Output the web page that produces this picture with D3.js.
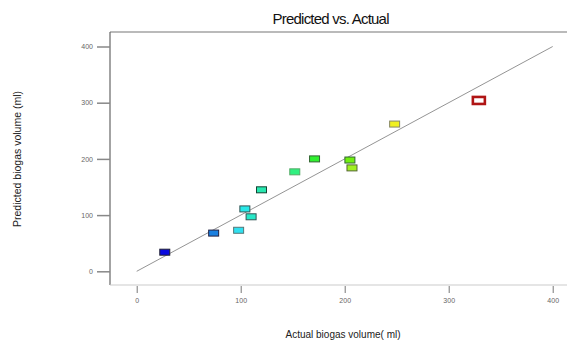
<!DOCTYPE html>
<html><head><meta charset="utf-8">
<script src="https://cdn.jsdelivr.net/npm/d3@7"></script>
<style>body{margin:0;background:#fff}svg{display:block}</style>
</head><body>
<svg id="c" width="567" height="341"></svg>
<script>
const actual    = [27, 74, 98, 104, 110, 120, 152, 171, 205, 207, 248, 329];
const predicted = [34, 68, 73, 111, 97, 145, 177, 200, 198, 184, 262, 304];
const colors    = ["#0a0ae0","#1a80e0","#30e0f0","#28e8e8","#28e8c8","#28e8b0","#30f080","#30f030","#70f010","#a0f020","#f0f020","#ffffff"];
const strokes   = ["#223","#224","#577","#355","#355","#143","#5a6","#363","#363","#563","#886","#b01515"];
const ticks     = [0, 100, 200, 300, 400];
const titleText = "Predicted vs. Actual";
const xLabel    = "Actual biogas volume( ml)";
const yLabel    = "Predicted biogas volume (ml)";

(function () {
const svg = d3.select("#c");
const x = d3.scaleLinear().domain([0, 400]).range([136.7, 552.7]);
const y = d3.scaleLinear().domain([0, 400]).range([271.3, 46.5]);
const L = 110, T = 32, B = 285, R = 567;

// frame
svg.append("line").attr("x1", L).attr("x2", R).attr("y1", T).attr("y2", T).attr("stroke", "#777").attr("stroke-width", 1.2);
svg.append("line").attr("x1", L).attr("x2", L).attr("y1", T).attr("y2", B).attr("stroke", "#666").attr("stroke-width", 1.2);
svg.append("line").attr("x1", L).attr("x2", R).attr("y1", B).attr("y2", B).attr("stroke", "#ccc").attr("stroke-width", 1.2);

// y axis
const yAxis = d3.axisLeft(y).tickValues(ticks).tickSize(13).tickPadding(4);
const gy = svg.append("g").attr("transform", `translate(${L},0)`).call(yAxis);
gy.select(".domain").remove();
gy.selectAll(".tick line").attr("stroke", "#888").attr("stroke-width", 1.5);
gy.selectAll(".tick text").attr("font-family", "Liberation Sans, Arial, sans-serif").attr("font-size", 7).attr("fill", "#666");

// x axis
const xAxis = d3.axisBottom(x).tickValues(ticks).tickSize(7).tickPadding(5);
const gx = svg.append("g").attr("transform", `translate(0,${B + 1})`).call(xAxis);
gx.select(".domain").remove();
gx.selectAll(".tick line").attr("stroke", "#777").attr("stroke-width", 1);
gx.selectAll(".tick text").attr("font-family", "Liberation Sans, Arial, sans-serif").attr("font-size", 7).attr("fill", "#666");

// diagonal
svg.append("line").attr("x1", x(0)).attr("y1", y(0)).attr("x2", x(400)).attr("y2", y(400))
  .attr("stroke", "#888").attr("stroke-width", 0.9);

// points
const pts = actual.map((a, i) => ({a, p: predicted[i], c: colors[i], s: strokes[i], i}));
svg.selectAll("rect.pt").data(pts).join("rect").attr("class", "pt")
  .attr("x", d => x(d.a) - (d.i === 11 ? 6 : 5))
  .attr("y", d => y(d.p) - (d.i === 11 ? 3.5 : 3))
  .attr("width", d => d.i === 11 ? 12 : 10)
  .attr("height", d => d.i === 11 ? 7 : 6)
  .attr("fill", d => d.c).attr("stroke", d => d.s)
  .attr("stroke-width", d => d.i === 11 ? 2.6 : 1);

// text
svg.append("text").attr("x", 331).attr("y", 24).attr("text-anchor", "middle")
  .attr("font-family", "Liberation Sans, Arial, sans-serif").attr("font-size", 15).attr("textLength", 117).attr("fill", "#111").text(titleText);
svg.append("text").attr("x", 343).attr("y", 338).attr("text-anchor", "middle")
  .attr("font-family", "Liberation Sans, Arial, sans-serif").attr("font-size", 10).attr("fill", "#222").text(xLabel);
svg.append("text").attr("transform", "translate(21,159) rotate(-90)").attr("text-anchor", "middle")
  .attr("font-family", "Liberation Sans, Arial, sans-serif").attr("font-size", 10.5).attr("fill", "#222").text(yLabel);
})();
</script>
</body></html>
